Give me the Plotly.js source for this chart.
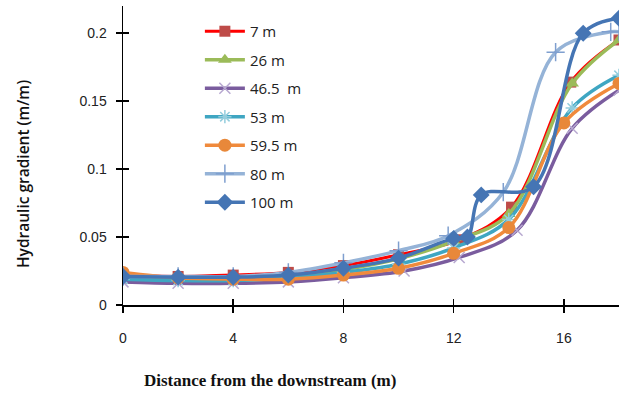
<!DOCTYPE html>
<html>
<head>
<meta charset="utf-8">
<script src="https://cdn.plot.ly/plotly-3.0.1.min.js"></script>
<style>
  html, body { margin: 0; padding: 0; background: #fff; }
  #chart { width: 619px; height: 396px; }
</style>
</head>
<body>
<div id="chart"></div>
<script>
// Hydraulic gradient along the structure for several sections (distance in m)
const seriesNames = ["7 m", "26 m", "46.5  m", "53 m", "59.5 m", "80 m", "100 m"];

const x7   = [0, 2, 4, 6, 8, 10, 12.2, 14.1, 16.25, 18];
const y7   = [0.022, 0.021, 0.022, 0.024, 0.029, 0.037, 0.048, 0.072, 0.164, 0.195];

const x26  = [0, 2, 4, 6, 8, 10, 12, 14, 16.3, 18];
const y26  = [0.018, 0.019, 0.019, 0.021, 0.026, 0.034, 0.047, 0.067, 0.163, 0.195];

const x465 = [0, 2, 4, 6, 8, 10.2, 12.2, 14.3, 16.3, 18];
const y465 = [0.017, 0.016, 0.016, 0.017, 0.020, 0.025, 0.035, 0.055, 0.130, 0.158];

const x53  = [0, 2, 4, 6, 8, 10, 12, 14, 16.3, 18];
const y53  = [0.019, 0.018, 0.018, 0.020, 0.024, 0.030, 0.042, 0.063, 0.145, 0.169];

const x595 = [0, 2, 4, 6, 8, 10, 12, 14, 16, 18];
const y595 = [0.024, 0.020, 0.019, 0.019, 0.022, 0.027, 0.038, 0.057, 0.134, 0.163];

const x80  = [0, 2, 4, 6, 8, 10, 11.8, 13.8, 15.7, 17.7, 18];
const y80  = [0.021, 0.021, 0.021, 0.024, 0.031, 0.040, 0.051, 0.083, 0.186, 0.201, 0.201];

const x100 = [0, 2, 4, 6, 8, 10, 12, 12.5, 13, 14.9, 16.7, 18];
const y100 = [0.021, 0.0205, 0.0205, 0.022, 0.027, 0.0345, 0.049, 0.050, 0.081, 0.087, 0.200, 0.211];

const xTicks = [0, 4, 8, 12, 16];
const yTicks = [0, 0.05, 0.1, 0.15, 0.2];
const yTickText = ["0", "0.05", "0.1", "0.15", "0.2"];

function series(name, xs, ys, lineColor, lineWidth, marker, idx) {
  return {
    type: "scatter", mode: "lines+markers", name: name,
    x: xs, y: ys, legendgroup: "g" + idx,
    line: { color: lineColor, width: lineWidth, shape: "spline", smoothing: 1 },
    marker: marker
  };
}

const data = [
  series(seriesNames[0], x7, y7, "#FF0000", 3,
    { symbol: "square", size: 11, color: "#BE4B48" }, 0),
  series(seriesNames[1], x26, y26, "#9BBB59", 3.5,
    { symbol: "triangle-up", size: 12, color: "#9BBB59" }, 1),
  series(seriesNames[2], x465, y465, "#7A5C9E", 3.5,
    { symbol: "x-thin-open", size: 11, color: "#B7A8D0", line: { width: 1.5, color: "#B7A8D0" } }, 2),
  series(seriesNames[3], x53, y53, "#3FA6C2", 3.5,
    { symbol: "asterisk-open", size: 11, color: "#93CDDD", line: { width: 1.5, color: "#93CDDD" } }, 3),
  series(seriesNames[4], x595, y595, "#F08A3C", 3.5,
    { symbol: "circle", size: 13, color: "#E8883A" }, 4),
  series(seriesNames[5], x80, y80, "#95B3D7", 3.5,
    { symbol: "cross-thin-open", size: 13, color: "#7F9FCF", line: { width: 1.5, color: "#7F9FCF" } }, 5),
  series(seriesNames[6], x100, y100, "#4575B4", 3.5,
    { symbol: "diamond", size: 13, color: "#4575B4" }, 6)
];

const axisFont = { family: "Liberation Sans, Arial, sans-serif", size: 14, color: "#222" };

const layout = {
  width: 619, height: 396,
  margin: { l: 123, r: 0, t: 6, b: 91 },
  paper_bgcolor: "#fff", plot_bgcolor: "#fff",
  showlegend: true,
  legend: {
    x: 0.155, y: 0.97, xanchor: "left", yanchor: "top",
    bgcolor: "rgba(0,0,0,0)", borderwidth: 0,
    font: { family: "Open Sans, Liberation Sans, Arial, sans-serif", size: 15, color: "#222" },
    itemwidth: 40, tracegroupgap: 6
  },
  xaxis: {
    range: [0, 18], tickvals: xTicks, ticktext: xTicks.map(String),
    showgrid: false, zeroline: false,
    showline: true, linecolor: "#000", linewidth: 1.5,
    ticks: "outside", ticklen: 6, tickwidth: 1.5, tickcolor: "#000",
    ticklabelstandoff: 14, tickfont: axisFont
  },
  yaxis: {
    range: [0, 0.22], tickvals: yTicks, ticktext: yTickText,
    showgrid: false, zeroline: false,
    showline: true, linecolor: "#000", linewidth: 1.5,
    ticks: "outside", ticklen: 6, tickwidth: 1.5, tickcolor: "#000",
    ticklabelstandoff: 6, tickfont: axisFont
  },
  // mirrored axes carrying the inner half of each crossing tick
  xaxis2: {
    overlaying: "x", matches: "x", range: [0, 18], tickvals: xTicks,
    showticklabels: false, showgrid: false, zeroline: false, showline: false,
    ticks: "inside", ticklen: 6, tickwidth: 1.5, tickcolor: "#000", side: "bottom", anchor: "y"
  },
  yaxis2: {
    overlaying: "y", matches: "y", range: [0, 0.22], tickvals: yTicks,
    showticklabels: false, showgrid: false, zeroline: false, showline: false,
    ticks: "inside", ticklen: 6, tickwidth: 1.5, tickcolor: "#000", side: "left", anchor: "x"
  },
  annotations: [
    {
      text: "Hydraulic gradient (m/m)", textangle: -90,
      xref: "paper", yref: "paper", x: -0.2016, y: 0.438,
      xanchor: "center", yanchor: "middle", showarrow: false,
      font: { family: "Open Sans, Liberation Sans, Arial, sans-serif", size: 15.5, weight: 600, color: "#111" }
    },
    {
      text: "<b>Distance from the downstream (m)</b>",
      xref: "paper", yref: "paper", x: 0.296, y: -0.254,
      xanchor: "center", yanchor: "middle", showarrow: false,
      font: { family: "Liberation Serif, Times New Roman, serif", size: 17, color: "#111" }
    }
  ]
};

// invisible trace so the mirrored tick axes are drawn
data.push({ type: "scatter", x: [0], y: [0], xaxis: "x2", yaxis: "y2",
  mode: "markers", marker: { opacity: 0 }, showlegend: false, hoverinfo: "skip" });

Plotly.newPlot("chart", data, layout, { staticPlot: true, displayModeBar: false });
</script>
</body>
</html>
